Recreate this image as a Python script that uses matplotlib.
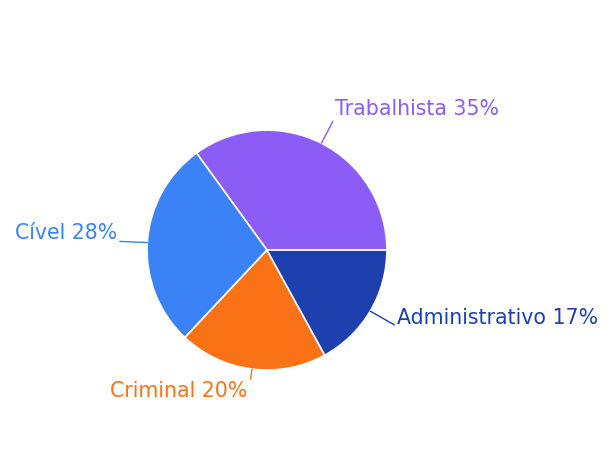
import numpy as np
import matplotlib.pyplot as plt

labels = ['Trabalhista', 'Cível', 'Criminal', 'Administrativo']
values = [35, 28, 20, 17]
colors = ['#8b5cf6', '#3b82f6', '#f97316', '#1e40af']
# where each label sits, in pie radii from the centre
label_xy = [(0.57, 1.18), (-1.25, 0.14), (-0.16, -1.175), (1.085, -0.57)]

fig = plt.figure(figsize=(6.13, 4.75), dpi=100)
ax = fig.add_axes([0.2398, 0.221, 0.3915, 0.505])

wedges, _ = ax.pie(values, colors=colors, startangle=0, counterclock=True,
                   wedgeprops={'edgecolor': 'white', 'linewidth': 1.2})

for w, lab, val, c, pos in zip(wedges, labels, values, colors, label_xy):
    mid = np.deg2rad((w.theta1 + w.theta2) / 2)
    x, y = np.cos(mid), np.sin(mid)
    left = pos[0] >= 0
    ax.annotate('{} {}%'.format(lab, val), xy=(x, y), xytext=pos,
                ha='left' if left else 'right', va='center', color=c,
                fontsize=14.8, annotation_clip=False,
                arrowprops=dict(arrowstyle='-', color=c, lw=1,
                                shrinkA=0, shrinkB=0,
                                relpos=(0, 0.1) if left else (1, 0.1)))

ax.set_xlim(-1, 1)
ax.set_ylim(-1, 1)
ax.set_aspect('equal')
fig.savefig('out.png', dpi=100)
